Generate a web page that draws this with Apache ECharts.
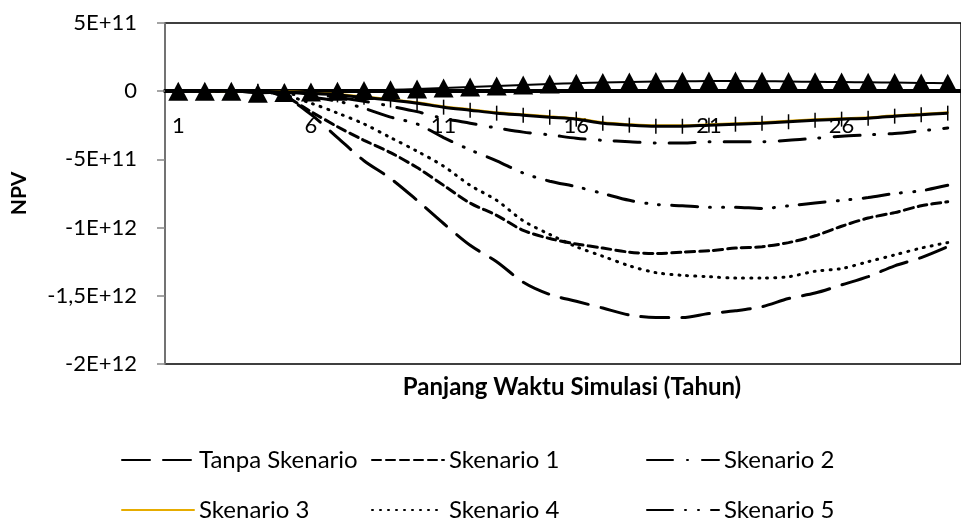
<!DOCTYPE html>
<html>
<head>
<meta charset="utf-8">
<script src="https://cdn.jsdelivr.net/npm/echarts@6/dist/echarts.min.js"></script>
<style>
    html, body { margin: 0; padding: 0; background: #fff; }
    #chart { width: 961px; height: 518px; }
</style>
</head>
<body>
<div id="chart"></div>
<script>
// tahun simulasi
var years = ['1', '2', '3', '4', '5', '6', '7', '8', '9', '10',
    '11', '12', '13', '14', '15', '16', '17', '18', '19', '20',
    '21', '22', '23', '24', '25', '26', '27', '28', '29', '30']

var yTicks = [-2e12, -1.5e12, -1e12, -5e11, 0, 5e11]
var yTickLabels = ['-2E+12', '-1,5E+12', '-1E+12', '-5E+11', '0', '5E+11']

// nilai NPV per skenario
var tanpaSkenario = [0, 0, 0, 0, -4e10, -1.7e11, -3.4e11, -5.1e11, -6.4e11, -8e11,
    -9.7e11, -1.13e12, -1.25e12, -1.4e12, -1.49e12, -1.54e12, -1.59e12, -1.64e12, -1.66e12, -1.66e12,
    -1.63e12, -1.61e12, -1.58e12, -1.52e12, -1.48e12, -1.42e12, -1.36e12, -1.28e12, -1.22e12, -1.14e12]
var skenario1 = [0, 0, 0, 0, -3.7e10, -1.5e11, -2.6e11, -3.6e11, -4.5e11, -5.6e11,
    -6.9e11, -8.2e11, -9.1e11, -1.02e12, -1.08e12, -1.12e12, -1.15e12, -1.18e12, -1.19e12, -1.18e12,
    -1.17e12, -1.15e12, -1.14e12, -1.11e12, -1.06e12, -9.9e11, -9.3e11, -8.9e11, -8.4e11, -8.1e11]
var skenario2 = [0, 0, 0, 0, -7e9, -2.2e10, -4.4e10, -7.3e10, -1.1e11, -1.5e11,
    -2e11, -2.35e11, -2.7e11, -3e11, -3.2e11, -3.45e11, -3.6e11, -3.7e11, -3.8e11, -3.8e11,
    -3.7e11, -3.7e11, -3.7e11, -3.6e11, -3.45e11, -3.3e11, -3.2e11, -3.1e11, -2.9e11, -2.7e11]
var skenario3 = [0, 0, 0, 0, -3e9, -1e10, -2.2e10, -4e10, -6e10, -8.3e10,
    -1.12e11, -1.34e11, -1.56e11, -1.71e11, -1.86e11, -2e11, -2.3e11, -2.44e11, -2.52e11, -2.52e11,
    -2.44e11, -2.37e11, -2.3e11, -2.19e11, -2.08e11, -2e11, -1.93e11, -1.78e11, -1.68e11, -1.56e11]
var skenario4 = [0, 0, 0, 0, -2.9e10, -8.8e10, -1.6e11, -2.4e11, -3.4e11, -4.4e11,
    -5.5e11, -6.9e11, -8e11, -9.5e11, -1.05e12, -1.14e12, -1.21e12, -1.28e12, -1.33e12, -1.35e12,
    -1.36e12, -1.37e12, -1.37e12, -1.36e12, -1.32e12, -1.3e12, -1.25e12, -1.2e12, -1.15e12, -1.11e12]
var skenario5 = [0, 0, 0, 0, -1.5e10, -4.4e10, -7.3e10, -1.25e11, -1.9e11, -2.4e11,
    -3.4e11, -4.3e11, -5.1e11, -6e11, -6.6e11, -7e11, -7.5e11, -8e11, -8.3e11, -8.4e11,
    -8.5e11, -8.5e11, -8.6e11, -8.4e11, -8.2e11, -8e11, -7.8e11, -7.5e11, -7.3e11, -6.9e11]
// seri tanpa legenda (penanda plus dan segitiga)
var seriPlus = [0, 0, 0, 0, -5e9, -1.5e10, -2.7e10, -4.5e10, -6.5e10, -8.8e10,
    -1.17e11, -1.39e11, -1.61e11, -1.76e11, -1.91e11, -2.05e11, -2.35e11, -2.49e11, -2.57e11, -2.57e11,
    -2.49e11, -2.42e11, -2.35e11, -2.24e11, -2.13e11, -2.05e11, -1.98e11, -1.83e11, -1.73e11, -1.61e11]
var seriSegitiga = [0, 0, 0, -1.5e10, -1e10, -5e9, 0, 5e9, 1e10, 1.6e10,
    2.3e10, 3e10, 3.8e10, 4.6e10, 5.3e10, 5.9e10, 6.4e10, 6.8e10, 7.1e10, 7.3e10,
    7.4e10, 7.4e10, 7.3e10, 7.1e10, 6.9e10, 6.7e10, 6.5e10, 6.3e10, 6.1e10, 5.9e10]

var FONT = 'Lato'

function lineSeries(name, data, color, width, dash) {
    return {
        name: name,
        type: 'line',
        data: data,
        symbol: 'none',
        smooth: 0.3,
        lineStyle: { color: color, width: width, type: dash, cap: 'round' },
        itemStyle: { color: color },
    }
}

function legendAt(name, left, top) {
    return {
        data: [name],
        left: left,
        top: top,
        itemWidth: 72,
        itemHeight: 14,
        itemGap: 6,
        itemStyle: { opacity: 0 },
        textStyle: { fontFamily: FONT, fontSize: 24, color: '#000' },
    }
}

var chart = echarts.init(document.getElementById('chart'))

var option = {
    animation: false,
    backgroundColor: '#fff',
    title: [{
        text: 'Panjang Waktu Simulasi (Tahun)',
        left: 567,
        top: 370,
        textAlign: 'center',
        textStyle: { fontFamily: FONT, fontSize: 24, fontWeight: 'bold', color: '#000' },
    }],
    legend: [
        legendAt('Tanpa Skenario', 116, 443),
        legendAt('Skenario 1', 366, 443),
        legendAt('Skenario 2', 641, 443),
        legendAt('Skenario 3', 116, 493),
        legendAt('Skenario 4', 366, 493),
        legendAt('Skenario 5', 641, 493),
    ],
    grid: {
        left: 165,
        top: 23,
        right: -8,
        bottom: 154,
        show: true,
        borderColor: '#000',
        borderWidth: 1.5,
    },
    xAxis: {
        type: 'category',
        data: years,
        boundaryGap: true,
        offset: -273, // sumbu kategori digeser ke garis nol
        axisLine: { onZero: false, lineStyle: { color: '#000', width: 4 } },
        axisTick: { show: false },
        axisLabel: {
            interval: 4,
            margin: 24,
            color: '#000',
            fontFamily: FONT,
            fontSize: 22,
        },
        splitLine: { show: false },
    },
    yAxis: {
        type: 'value',
        min: -2e12,
        max: 5e11,
        interval: 5e11,
        name: 'NPV',
        nameLocation: 'middle',
        nameRotate: 90,
        nameGap: 135,
        nameTextStyle: { fontFamily: FONT, fontSize: 21, fontWeight: 'bold', color: '#000' },
        axisLine: { show: true, lineStyle: { color: '#868686', width: 1.5 } },
        axisTick: { show: true, length: 8, lineStyle: { color: '#868686', width: 1.5 } },
        axisLabel: {
            margin: 28,
            color: '#000',
            fontFamily: FONT,
            fontSize: 22,
            formatter: function (v) {
                var i = yTicks.indexOf(v)
                return i >= 0 ? yTickLabels[i] : ''
            },
        },
        splitLine: { show: false },
    },
    series: [
        lineSeries('Tanpa Skenario', tanpaSkenario, '#000', 3, [28, 13]),
        lineSeries('Skenario 1', skenario1, '#000', 3, [9, 5]),
        lineSeries('Skenario 2', skenario2, '#000', 3, [26, 14, 1, 14]),
        lineSeries('Skenario 3', skenario3, '#e6ac00', 2.5, 'solid'),
        lineSeries('Skenario 4', skenario4, '#000', 3, [1, 7]),
        lineSeries('Skenario 5', skenario5, '#000', 3, [26, 12, 1, 12, 1, 12]),
        {
            name: 'plus',
            type: 'line',
            data: seriPlus,
            smooth: 0.3,
            symbol: 'rect',
            symbolSize: [1.5, 15],
            showSymbol: true,
            showAllSymbol: true,
            lineStyle: { color: '#000', width: 3 },
            itemStyle: { color: '#000' },
            z: 3,
        },
        {
            name: 'segitiga',
            type: 'line',
            data: seriSegitiga,
            smooth: 0.3,
            symbol: 'triangle',
            symbolSize: [20, 19],
            showSymbol: true,
            showAllSymbol: true,
            lineStyle: { color: '#000', width: 2 },
            itemStyle: { color: '#000' },
            z: 4,
        },
    ],
}

chart.setOption(option)
</script>
</body>
</html>
